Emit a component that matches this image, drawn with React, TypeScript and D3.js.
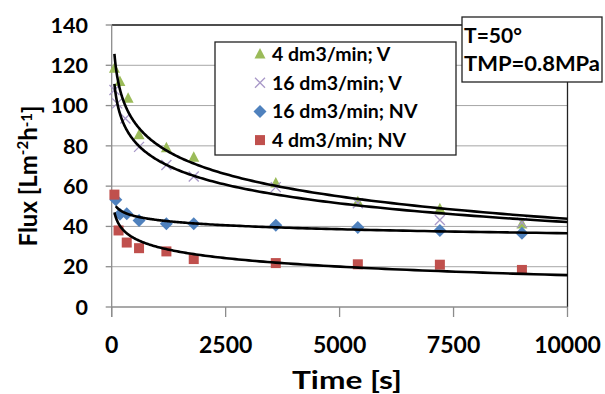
import React from 'react';
import * as d3 from 'd3';

const greenX = [60, 180, 360, 600, 1200, 1800, 3600, 5400, 7200, 9000];
const greenY = [118.5, 112, 103.6, 85.5, 79, 74.3, 61.5, 52.3, 48.8, 41.2];
const purpleX = [60, 120, 300, 600, 1200, 1800, 3600, 5400, 7200, 9000];
const purpleY = [107.7, 101.1, 93.6, 79.5, 70.5, 64.8, 59.5, 51.5, 43.2, 41.9];
const blueX = [90, 180, 330, 600, 1200, 1800, 3600, 5400, 7200, 9000];
const blueY = [53.2, 46, 46.3, 43, 41.3, 41.3, 40.6, 39.5, 38, 36.6];
const redX = [60, 150, 330, 600, 1200, 1800, 3600, 5400, 7200, 9000];
const redY = [55.8, 38, 32, 29.2, 27.6, 23.8, 21.8, 21.2, 21, 18.4];

const xTicks = [0, 2500, 5000, 7500, 10000];
const yTicks = [0, 20, 40, 60, 80, 100, 120, 140];
const seriesNames = ['4 dm3/min; V', '16 dm3/min; V', '16 dm3/min; NV', '4 dm3/min; NV'];
const boxLines = ['T=50°', 'TMP=0.8MPa'];

const W = 605;
const H = 394;
const FONT = 'Lato, "Open Sans", sans-serif';

type Shape = 'triangle' | 'cross' | 'diamond' | 'square';
interface Series {
  name: string;
  xs: number[];
  ys: number[];
  color: string;
  shape: Shape;
}

const series: Series[] = [
  {name: seriesNames[0], xs: greenX, ys: greenY, color: '#9BBB59', shape: 'triangle'},
  {name: seriesNames[1], xs: purpleX, ys: purpleY, color: '#A898C8', shape: 'cross'},
  {name: seriesNames[2], xs: blueX, ys: blueY, color: '#4F81BD', shape: 'diamond'},
  {name: seriesNames[3], xs: redX, ys: redY, color: '#C0504D', shape: 'square'},
];

// logarithmic trendline y = a + b ln(x), least squares like Excel
function logFit(xs: number[], ys: number[]) {
  const lx = xs.map((v) => Math.log(v));
  const mx = d3.mean(lx)!;
  const my = d3.mean(ys)!;
  let sxy = 0;
  let sxx = 0;
  lx.forEach((v, i) => {
    sxy += (v - mx) * (ys[i] - my);
    sxx += (v - mx) * (v - mx);
  });
  const b = sxy / sxx;
  return (x: number) => my + b * (Math.log(x) - mx);
}

const Marker: React.FC<{shape: Shape; color: string; cx: number; cy: number}> = ({shape, color, cx, cy}) => {
  if (shape === 'triangle') {
    return <path d={`M${cx},${cy - 6}L${cx + 5.5},${cy + 4.5}L${cx - 5.5},${cy + 4.5}Z`} fill={color} />;
  }
  if (shape === 'cross') {
    const r = 5;
    return (
      <path
        d={`M${cx - r},${cy - r}L${cx + r},${cy + r}M${cx - r},${cy + r}L${cx + r},${cy - r}`}
        stroke={color}
        strokeWidth={1.3}
        fill='none'
      />
    );
  }
  if (shape === 'diamond') {
    const r = 6.5;
    return <path d={`M${cx},${cy - r}L${cx + r},${cy}L${cx},${cy + r}L${cx - r},${cy}Z`} fill={color} />;
  }
  return <rect x={cx - 5} y={cy - 5} width={10} height={10} fill={color} />;
};

export default function App() {
  const x = d3.scaleLinear().domain([0, 10000]).range([111.7, 567.5]);
  const y = d3.scaleLinear().domain([0, 140]).range([307, 25]);

  const line = d3
    .line<number>()
    .x((d) => x(d))
    .curve(d3.curveLinear);

  return (
    <svg width={W} height={H} style={{position: 'absolute', left: 0, top: 0, background: '#fff'}} fontFamily={FONT}>
      {/* grid */}
      {yTicks.slice(1).map((t) => (
        <line key={t} x1={x(0)} x2={x(10000)} y1={y(t)} y2={y(t)} stroke='#A6A6A6' strokeWidth={1} />
      ))}
      {/* plot border top/right */}
      <line x1={x(0)} x2={x(10000)} y1={y(140)} y2={y(140)} stroke='#222' strokeWidth={1.3} />
      <line x1={x(10000)} x2={x(10000)} y1={y(140)} y2={y(0)} stroke='#222' strokeWidth={1.3} />

      {/* axes */}
      <line x1={x(0)} x2={x(0)} y1={y(140)} y2={y(0) + 10} stroke='#8C8C8C' strokeWidth={1.3} />
      <line x1={x(0)} x2={x(10000)} y1={y(0)} y2={y(0)} stroke='#8C8C8C' strokeWidth={1.3} />
      {yTicks.map((t) => (
        <g key={t}>
          <line x1={x(0) - 6} x2={x(0)} y1={y(t)} y2={y(t)} stroke='#8C8C8C' strokeWidth={1.3} />
          <text x={88} y={y(t)} dy='0.36em' textAnchor='end' fontSize={21.5} fontWeight={700}>
            {t}
          </text>
        </g>
      ))}
      {xTicks.map((t) => (
        <g key={t}>
          <line x1={x(t)} x2={x(t)} y1={y(0)} y2={y(0) + 10} stroke='#8C8C8C' strokeWidth={1.3} />
          <text x={x(t)} y={345} dy='0.36em' textAnchor='middle' fontSize={23} fontWeight={700}>
            {t}
          </text>
        </g>
      ))}
      <text
        x={292}
        y={380}
        dy='0.36em'
        fontSize={25}
        fontWeight={700}
        textLength={110}
        lengthAdjust='spacingAndGlyphs'
      >
        Time [s]
      </text>
      <text
        transform='translate(28,176) rotate(-90)'
        dy='0.36em'
        textAnchor='middle'
        fontSize={24}
        fontWeight={700}
      >
        Flux [Lm
        <tspan fontSize={15} dy='-0.55em'>-2</tspan>
        <tspan dy='0.35em'>h</tspan>
        <tspan fontSize={15} dy='-0.35em'>-1</tspan>
        <tspan dy='0.35em'>]</tspan>
      </text>

      {/* markers */}
      {series.map((s) => (
        <g key={s.name}>
          {s.xs.map((v, i) => (
            <Marker key={i} shape={s.shape} color={s.color} cx={x(v)} cy={y(s.ys[i])} />
          ))}
        </g>
      ))}

      {/* trendlines */}
      {series.map((s) => {
        const f = logFit(s.xs, s.ys);
        const lo = d3.min(s.xs)!;
        const pts = d3.range(0, 201).map((i) => lo * Math.pow(10000 / lo, i / 200));
        return (
          <path
            key={s.name}
            d={line.y((d) => y(f(d)))(pts)!}
            fill='none'
            stroke='#000'
            strokeWidth={2.6}
          />
        );
      })}

      {/* legend */}
      <rect x={215} y={42} width={241} height={113} fill='#fff' stroke='#222' strokeWidth={1.3} />
      {series.map((s, i) => {
        const cy = 54 + i * 28.7;
        return (
          <g key={s.name}>
            <Marker shape={s.shape} color={s.color} cx={260} cy={cy} />
            <text x={272} y={cy} dy='0.36em' fontSize={19.5} fontWeight={700}>
              {s.name}
            </text>
          </g>
        );
      })}

      {/* condition box */}
      <rect x={462} y={17} width={140} height={65} fill='#fff' stroke='#222' strokeWidth={1.3} />
      <text x={464} y={35} dy='0.36em' fontSize={21} fontWeight={700} textLength={58} lengthAdjust='spacingAndGlyphs'>
        {boxLines[0]}
      </text>
      <text x={464} y={63} dy='0.36em' fontSize={21} fontWeight={700} textLength={136} lengthAdjust='spacingAndGlyphs'>
        {boxLines[1]}
      </text>
    </svg>
  );
}
